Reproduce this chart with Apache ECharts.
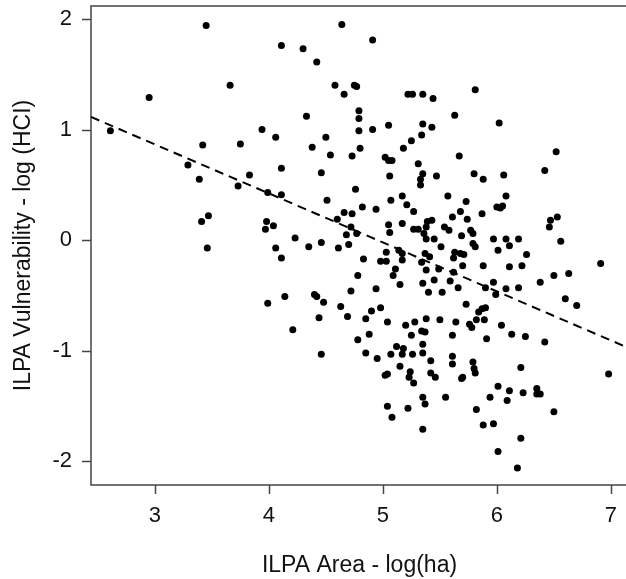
<!DOCTYPE html>
<html>
<head>
<meta charset="utf-8">
<script src="https://cdn.jsdelivr.net/npm/echarts@6/dist/echarts.min.js"></script>
<style>
  html, body { margin: 0; padding: 0; background: #fff; }
  #mychart { width: 626px; height: 579px; }
</style>
</head>
<body>
<div id="mychart"></div>
<script>
// ILPA area, log(ha)
const areaLog = [
  2.61, 2.95, 3.45, 3.42, 3.29, 3.39, 3.41, 3.47, 3.46,
  4.64, 4.91, 4.11, 4.30, 4.42, 3.66, 4.58, 4.66, 4.75, 4.77, 5.22, 5.26, 5.35, 5.44,
  4.79, 4.79, 4.33, 3.94, 4.06, 4.79, 4.91, 5.05, 4.50, 3.75, 4.38, 4.54, 4.73, 4.80,
  5.18, 5.25, 5.02, 5.05, 5.08, 5.31, 3.83, 4.11, 4.46, 5.06, 3.73, 3.99, 4.11, 4.76,
  4.51, 5.07, 5.17, 5.21, 5.27, 4.82, 4.94, 4.66, 4.73, 4.60, 4.72, 4.77, 4.68, 5.05,
  5.06, 5.27, 5.31, 5.17, 3.98, 3.97, 4.04, 4.23, 4.46,
  4.06, 4.11, 4.35, 4.61, 4.70, 4.83, 5.03, 4.98, 5.03, 5.14, 5.17, 5.17, 5.11, 5.09,
  4.78, 5.15, 4.94, 4.72, 4.40, 4.42, 4.48, 4.14, 3.99, 4.63, 4.90, 4.98, 4.44, 4.69,
  4.85, 5.04, 4.21, 4.88, 4.78, 5.20, 5.28, 5.25, 4.85, 4.95, 4.46, 5.12, 5.18, 5.07,
  5.17, 5.26, 5.15, 5.02, 5.04, 5.24, 5.23, 5.27, 5.04, 5.08, 5.22,
  5.81, 5.63, 6.02, 5.35, 5.43, 5.34, 5.67, 6.52, 5.35, 5.33, 5.33, 5.47, 5.80, 5.88,
  6.06, 6.42, 5.57, 5.73, 6.08, 6.00, 6.03, 6.05, 5.68, 5.61, 5.87, 5.74, 6.47, 6.53,
  6.46, 5.39, 5.43, 5.38, 5.36, 5.38, 5.54, 5.58, 5.45, 5.69, 5.77, 5.79, 5.97, 6.08,
  6.11, 6.19, 6.56,
  5.51, 5.79, 5.81, 6.01, 5.37, 5.41, 5.34, 5.63, 5.68, 5.71, 5.62, 6.26, 5.38, 5.49,
  5.62, 5.70, 5.88, 6.11, 6.22, 6.91, 6.50, 6.63, 6.38, 5.35, 5.45, 5.40, 5.52, 5.59,
  5.66, 5.90, 5.97, 5.99, 6.08, 6.19, 6.60, 6.70, 5.73, 5.87, 5.90, 5.84, 5.82, 5.89,
  5.76, 5.78, 5.64, 5.50, 5.38, 5.34, 5.37, 5.61, 5.91, 6.04, 6.13, 6.25, 6.42, 5.35,
  5.35, 5.42, 5.61, 5.61, 5.79, 5.80, 5.81, 6.21, 6.98, 5.42, 5.46, 5.69, 5.70, 6.01,
  6.11, 6.23, 6.35, 6.35, 6.38, 5.94, 6.09, 5.55, 5.35, 5.37, 5.82, 6.50, 5.88, 5.97,
  5.35, 6.21, 6.01, 6.18
]
// ILPA vulnerability, log(HCI)
const hciLog = [
  0.99, 1.29, 1.94, 0.86, 0.68, 0.55, 0.17, 0.22, -0.07,
  1.95, 1.81, 1.76, 1.73, 1.61, 1.40, 1.40, 1.32, 1.40, 1.39, 1.32, 1.32, 1.32, 1.28,
  1.17, 1.10, 1.12, 1.00, 0.93, 0.99, 1.00, 1.04, 0.93, 0.87, 0.84, 0.77, 0.76, 0.83,
  0.83, 0.90, 0.75, 0.72, 0.72, 0.69, 0.59, 0.65, 0.61, 0.58, 0.49, 0.43, 0.41, 0.46,
  0.36, 0.36, 0.40, 0.32, 0.26, 0.30, 0.28, 0.25, 0.24, 0.19, 0.12, 0.06, 0.05, 0.14,
  0.07, 0.10, 0.10, 0.15, 0.17, 0.10, 0.13, 0.02, -0.02,
  -0.07, -0.16, -0.06, -0.07, -0.04, -0.17, -0.11, -0.19, -0.19, -0.09, -0.12, -0.18, -0.26, -0.32,
  -0.32, -0.40, -0.44, -0.46, -0.49, -0.51, -0.56, -0.51, -0.57, -0.60, -0.64, -0.61, -0.70, -0.69,
  -0.71, -0.74, -0.81, -0.85, -0.90, -0.77, -0.74, -0.86, -1.02, -1.07, -1.03, -0.96, -0.98, -1.03,
  -1.03, -1.03, -1.14, -1.22, -1.21, -1.19, -1.24, -1.29, -1.50, -1.60, -1.52,
  1.36, 1.13, 1.06, 1.05, 1.02, 0.95, 0.76, 0.80, 0.60, 0.55, 0.50, 0.58, 0.60, 0.55,
  0.59, 0.63, 0.40, 0.35, 0.40, 0.30, 0.29, 0.31, 0.26, 0.21, 0.24, 0.19, 0.18, 0.21,
  0.12, 0.17, 0.18, 0.12, 0.06, 0.01, 0.12, 0.09, 0.01, 0.04, 0.09, 0.06, 0.01, 0.01,
  -0.05, 0.01, -0.01,
  -0.06, -0.03, -0.06, -0.09, -0.12, -0.15, -0.20, -0.11, -0.12, -0.13, -0.16, -0.13, -0.27, -0.26,
  -0.29, -0.23, -0.23, -0.24, -0.23, -0.21, -0.32, -0.30, -0.38, -0.39, -0.36, -0.47, -0.47, -0.37,
  -0.43, -0.43, -0.38, -0.49, -0.44, -0.43, -0.53, -0.59, -0.58, -0.62, -0.61, -0.65, -0.72, -0.72,
  -0.76, -0.79, -0.74, -0.72, -0.71, -0.82, -0.83, -0.86, -0.89, -0.77, -0.85, -0.87, -0.92, -0.94,
  -1.02, -1.09, -1.05, -1.12, -1.10, -1.16, -1.20, -1.15, -1.21, -1.20, -1.24, -1.25, -1.24, -1.32,
  -1.36, -1.38, -1.34, -1.39, -1.39, -1.42, -1.45, -1.42, -1.42, -1.48, -1.53, -1.55, -1.67, -1.66,
  -1.71, -1.79, -1.91, -2.06
]
// fitted line: hci = intercept + slope * area
const fitIntercept = 2.195
const fitSlope = -0.443
const xTicks = [3, 4, 5, 6, 7]
const yTicks = [-2, -1, 0, 1, 2]
const xRange = [2.44, 7.15]
const yRange = [-2.213, 2.117]

const points = areaLog.map((a, i) => [a, hciLog[i]])
const fitLine = xRange.map(x => [x, fitIntercept + fitSlope * x])

const font = '"Liberation Sans", Arial, sans-serif'
const axisColor = '#444'
const tickLen = 9

const option = {
  animation: false,
  backgroundColor: '#fff',
  grid: {
    show: true,
    left: 91,
    top: 6,
    width: 537,
    height: 479,
    outerBoundsMode: 'none',
    borderColor: axisColor,
    borderWidth: 1.5
  },
  xAxis: {
    type: 'value',
    min: xRange[0],
    max: xRange[1],
    name: 'ILPA Area - log(ha)',
    nameLocation: 'middle',
    nameGap: 69,
    nameTextStyle: { fontFamily: font, fontSize: 23, color: '#111' },
    splitLine: { show: false },
    axisLine: { show: false, onZero: false },
    axisTick: { show: false },
    axisLabel: { customValues: xTicks, margin: 20, fontFamily: font, fontSize: 22, color: '#111' }
  },
  yAxis: {
    type: 'value',
    min: yRange[0],
    max: yRange[1],
    name: 'ILPA Vulnerability - log (HCI)',
    nameLocation: 'middle',
    nameGap: 56,
    nameRotate: 90,
    nameTextStyle: { fontFamily: font, fontSize: 23, color: '#111' },
    splitLine: { show: false },
    axisLine: { show: false, onZero: false },
    axisTick: { show: false },
    axisLabel: { customValues: yTicks, margin: 19, fontFamily: font, fontSize: 22, color: '#111' }
  },
  series: [
    {
      type: 'scatter',
      symbol: 'circle',
      symbolSize: 7,
      itemStyle: { color: '#000', opacity: 1 },
      data: points
    },
    {
      type: 'line',
      symbol: 'none',
      lineStyle: { color: '#000', width: 2, type: [9, 6] },
      data: fitLine
    }
  ]
}

const myChart = echarts.init(document.getElementById('mychart'))
myChart.setOption(option)

// tick marks outside the plot box, placed through the chart's own scales
const tickStyle = { stroke: axisColor, lineWidth: 1.5 }
const ticks = []
xTicks.forEach(v => {
  const p = myChart.convertToPixel({ gridIndex: 0 }, [v, yRange[0]])
  const x = Math.round(p[0]) + 0.5
  ticks.push({ type: 'line', z: 100, silent: true, shape: { x1: x, y1: p[1], x2: x, y2: p[1] + tickLen }, style: tickStyle })
})
yTicks.forEach(v => {
  const p = myChart.convertToPixel({ gridIndex: 0 }, [xRange[0], v])
  const y = Math.round(p[1]) + 0.5
  ticks.push({ type: 'line', z: 100, silent: true, shape: { x1: p[0] - tickLen, y1: y, x2: p[0], y2: y }, style: tickStyle })
})
myChart.setOption({ graphic: ticks })
</script>
</body>
</html>
